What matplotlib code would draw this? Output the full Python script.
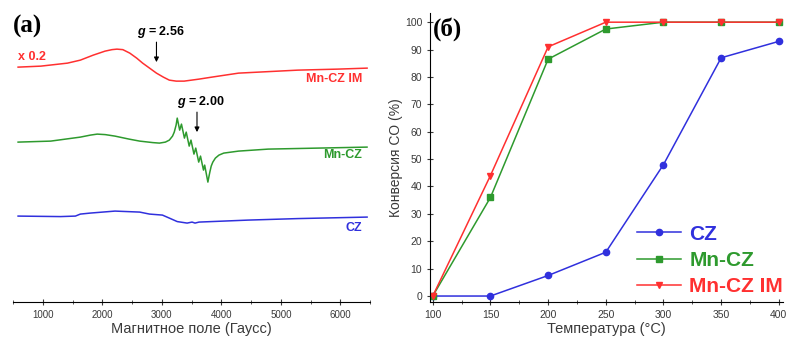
import matplotlib
matplotlib.use("Agg")
from matplotlib import pyplot
from matplotlib.ticker import MultipleLocator

pyplot.rcParams["font.family"] = ["Liberation Sans", "DejaVu Sans"]
pyplot.rcParams["mathtext.fontset"] = "custom"
pyplot.rcParams["mathtext.it"] = "Liberation Sans:bold:italic"

RED = "#ff3030"
GREEN = "#2e9a2e"
BLUE = "#3030dd"
GREY = "#3a3a3a"

# EPR spectra (field in Gauss, intensity in arbitrary units)
im_field = [585, 967, 1415, 1631, 1847, 2046, 2163, 2246, 2345, 2462, 2578,
            2678, 2794, 2910, 3026, 3126, 3242, 3375, 3624, 3840, 4289, 4787,
            5286, 5950, 6449]
im_signal = [1, 2, 5, 8, 13, 17, 18.5, 19, 18.5, 15, 10, 5, 0, -5, -9, -12,
             -13, -13, -11, -9, -5, -3.5, -2, -1, 0]

mn_field = [585, 1133, 1631, 1800, 1914, 2050, 2213, 2450, 2628, 2850, 2960,
            3060, 3126, 3180, 3209, 3240, 3259, 3300, 3330, 3380, 3410, 3460,
            3490, 3540, 3570, 3620, 3650, 3700, 3720, 3774, 3790, 3807, 3830,
            3857, 3900, 3960, 4040, 4289, 4787, 5618, 6448]
mn_signal = [5, 6, 10, 12, 13, 12.5, 11, 8, 6, 4.5, 4, 5, 7, 11, 15, 22, 29,
             17, 23, 9, 15, 1, 7, -7, -1, -15, -9, -23, -18, -35, -30, -25,
             -19, -15, -11, -8, -6, -4, -2, -1, 0]

cz_field = [585, 1299, 1548, 1631, 1797, 2213, 2628, 2794, 3010, 3126, 3259,
            3425, 3508, 3558, 3625, 4455, 5286, 6449]
cz_signal = [0, -0.5, 0, 2, 3, 5, 4, 2, 1, -2, -5.5, -7, -6, -7, -6, -4, -2.5, -1]

# CO conversion vs temperature
temps = [100, 150, 200, 250, 300, 350, 400]
conv_cz = [0, 0, 7.5, 16, 48, 87, 93]
conv_mn = [0, 36, 86.5, 97.5, 100, 100, 100]
conv_im = [0, 44, 91, 100, 100, 100, 100]


def style_axis(ax, size):
    ax.spines["top"].set_visible(False)
    ax.spines["right"].set_visible(False)
    ax.tick_params(which="both", direction="inout", labelsize=size,
                   labelcolor=GREY, color=GREY)
    ax.tick_params(which="major", length=4)
    ax.tick_params(which="minor", length=2.5)


fig = pyplot.figure(figsize=(7.9, 3.46), dpi=100)

# ---- (a) EPR spectra ----
ax1 = fig.add_axes([0.0165, 0.127, 0.452, 0.835])
style_axis(ax1, 7)
ax1.spines["left"].set_visible(False)
ax1.set_yticks([])
ax1.plot(im_field, [234 + s for s in im_signal], color=RED, lw=1.1)
ax1.plot(mn_field, [155 + s for s in mn_signal], color=GREEN, lw=1.1)
ax1.plot(cz_field, [86 + s for s in cz_signal], color=BLUE, lw=1.1)
ax1.set_xlim(500, 6500)
ax1.set_ylim(0, 289)
ax1.xaxis.set_major_locator(MultipleLocator(1000))
ax1.xaxis.set_minor_locator(MultipleLocator(500))
ax1.set_xticks(range(1000, 6001, 1000))
ax1.set_xlabel("Магнитное поле (Гаусс)", fontsize=10.5, color=GREY, labelpad=2)

lbl = dict(fontsize=9, fontweight="bold", ha="right", va="center")
ax1.text(6365, 223, "Mn-CZ IM", color=RED, **lbl)
ax1.text(6365, 147, "Mn-CZ", color=GREEN, **lbl)
ax1.text(6365, 74, "CZ", color=BLUE, **lbl)
ax1.text(585, 245, "x 0.2", color=RED, fontsize=9, fontweight="bold", va="center")

arrow = dict(arrowstyle="-|>", color="k", lw=0.8, mutation_scale=7,
             shrinkA=0, shrinkB=0)
ax1.annotate("", xy=(2910, 240), xytext=(2910, 260), arrowprops=arrow)
ax1.text(2977, 270, "$g$ = 2.56", fontsize=9, fontweight="bold", ha="center", va="center")
ax1.annotate("", xy=(3591, 170), xytext=(3591, 190), arrowprops=arrow)
ax1.text(3658, 200, "$g$ = 2.00", fontsize=9, fontweight="bold", ha="center", va="center")
ax1.text(0.0, 0.955, "(a)", transform=ax1.transAxes, fontsize=18, fontweight="bold",
         family="Liberation Serif", va="center")

# ---- (б) CO conversion ----
ax2 = fig.add_axes([0.544, 0.127, 0.447, 0.835])
style_axis(ax2, 7.5)
ax2.plot(temps, conv_cz, color=BLUE, lw=1.1, marker="o", ms=4.5, label="CZ")
ax2.plot(temps, conv_mn, color=GREEN, lw=1.1, marker="s", ms=4, label="Mn-CZ")
ax2.plot(temps, conv_im, color=RED, lw=1.1, marker="v", ms=4.5, label="Mn-CZ IM")
ax2.set_xlim(97.4, 403.5)
ax2.set_ylim(-2.2, 103.3)
ax2.xaxis.set_major_locator(MultipleLocator(50))
ax2.xaxis.set_minor_locator(MultipleLocator(25))
ax2.yaxis.set_major_locator(MultipleLocator(10))
ax2.set_xlabel("Температура (°C)", fontsize=10.5, color=GREY, labelpad=2)
ax2.set_ylabel("Конверсия CO (%)", fontsize=10, color=GREY, labelpad=1)
ax2.text(0.01, 0.945, "(б)", transform=ax2.transAxes, fontsize=18, fontweight="bold",
         family="Liberation Serif", va="center")

leg = ax2.legend(loc="lower right", bbox_to_anchor=(1.0, 0.02), frameon=False,
                 borderaxespad=0, borderpad=0, handlelength=2.1, handletextpad=0.4,
                 labelspacing=0.35, prop=dict(size=15, weight="bold"))
for text, col in zip(leg.get_texts(), [BLUE, GREEN, RED]):
    text.set_color(col)

fig.savefig("out.png", dpi=100)
